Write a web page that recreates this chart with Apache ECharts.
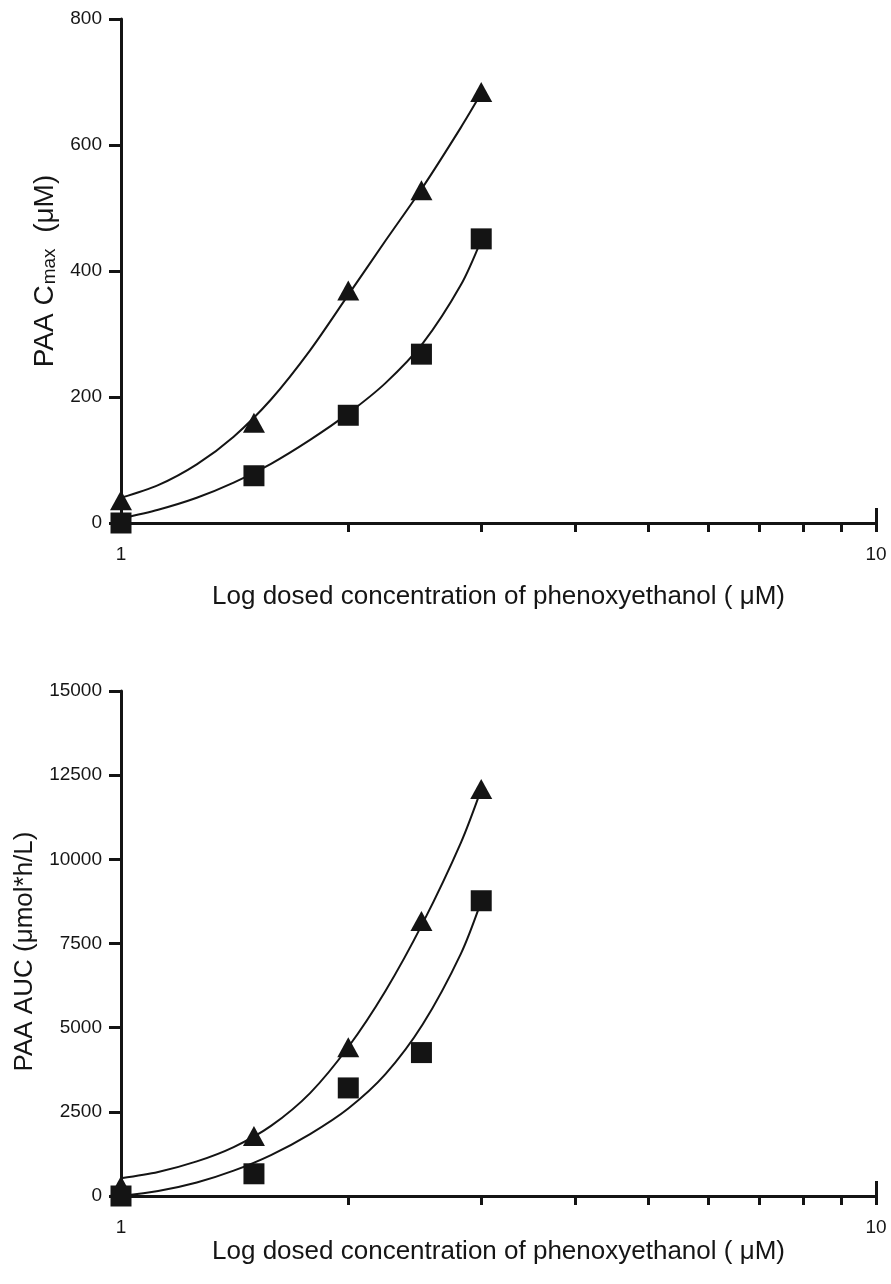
<!DOCTYPE html>
<html>
<head>
<meta charset="utf-8">
<script src="https://cdn.jsdelivr.net/npm/echarts@6/dist/echarts.min.js"></script>
<style>
  html, body { margin: 0; padding: 0; background: #ffffff; }
  #chart { width: 891px; height: 1284px; }
</style>
</head>
<body>
<div id="chart"></div>
<script>
// ---- data ----
const doses = [1, 1.5, 2, 2.5, 3];
const cmaxTriangle = [36, 159, 369, 528, 684];
const cmaxSquare = [0, 75, 171, 268, 451];
const aucTriangle = [300, 1780, 4420, 8170, 12090];
const aucSquare = [0, 660, 3210, 4260, 8770];

// fitted curves
const fitDoses = [1, 1.12, 1.26, 1.41, 1.58, 1.78, 2, 2.24, 2.51, 2.82, 3];
const cmaxTriangleFit = [40, 60, 93, 137, 196, 274, 362, 448, 533, 628, 682];
const cmaxSquareFit = [7, 21, 40, 64, 94, 132, 174, 222, 285, 378, 449];
const aucTriangleFit = [530, 715, 1027, 1453, 2082, 3057, 4425, 6090, 8104, 10498, 12078];
const aucSquareFit = [0, 148, 402, 754, 1217, 1841, 2600, 3620, 5100, 7200, 8750];

// axis ticks
const xTickValues = [1, 2, 3, 4, 5, 6, 7, 8, 9, 10];
const xMajorValues = [1, 10];
const xLabelValues = [1, 10];
const cmaxTicks = { min: 0, max: 800, interval: 200 };
const aucTicks = { min: 0, max: 15000, interval: 2500 };

const xTitle = 'Log dosed concentration of phenoxyethanol ( μM)';

// ---- build ----
const FONT = "'Liberation Sans', Arial, sans-serif";
const INK = '#141414';
const TXT = '#151515';

function pairs(xs, ys) { return xs.map((x, i) => [x, ys[i]]); }

function xAxisMain(gi, gap) {
  return {
    type: 'log', logBase: 10, min: 1, max: 10, gridIndex: gi,
    axisLine: { show: true, onZero: false, lineStyle: { color: INK, width: 3 } },
    axisTick: { show: true, customValues: xTickValues, length: 9, inside: false,
                lineStyle: { color: INK, width: 3 } },
    axisLabel: { show: true, customValues: xLabelValues, margin: 22, color: TXT,
                 fontFamily: FONT, fontSize: 19 },
    splitLine: { show: false }, minorTick: { show: false },
    name: xTitle, nameLocation: 'middle', nameGap: gap,
    nameTextStyle: { fontFamily: FONT, fontSize: 26, color: TXT }
  };
}
function xAxisMajor(gi) {
  return {
    type: 'log', logBase: 10, min: 1, max: 10, gridIndex: gi,
    axisLine: { show: false },
    axisTick: { show: true, customValues: xMajorValues, length: 15,
                lineStyle: { color: INK, width: 3 } },
    axisLabel: { show: false }, splitLine: { show: false }
  };
}
function yAxis(gi, t, name, gap, textStyle) {
  return {
    type: 'value', gridIndex: gi, min: t.min, max: t.max, interval: t.interval,
    axisLine: { show: true, onZero: false, lineStyle: { color: INK, width: 3 } },
    axisTick: { show: true, length: 12, lineStyle: { color: INK, width: 3 } },
    axisLabel: { margin: 19, color: TXT, fontFamily: FONT, fontSize: 19,
                 formatter: function (v) { return String(v); } },
    splitLine: { show: false },
    name: name, nameLocation: 'middle', nameGap: gap,
    nameTextStyle: textStyle
  };
}

function curve(xi, yi, xs, ys) {
  return { type: 'line', xAxisIndex: xi, yAxisIndex: yi, data: pairs(xs, ys),
           smooth: 0.3, showSymbol: false, symbol: 'none', silent: true,
           lineStyle: { color: INK, width: 2 }, z: 3 };
}
function points(xi, yi, xs, ys, symbol, size) {
  return { type: 'scatter', xAxisIndex: xi, yAxisIndex: yi, data: pairs(xs, ys),
           symbol: symbol, symbolSize: size,
           itemStyle: { color: INK, opacity: 1 }, z: 5 };
}

const topTitleStyle = {
  fontFamily: FONT, fontSize: 28, color: TXT,
  rich: {
    a: { fontFamily: FONT, fontSize: 28, color: TXT },
    b: { fontFamily: FONT, fontSize: 19, color: TXT, padding: [10, 0, 0, 1] }
  }
};
const bottomTitleStyle = {
  fontFamily: FONT, fontSize: 26, color: TXT, padding: [0, 16, 0, 0]
};

const option = {
  backgroundColor: '#ffffff',
  animation: false,
  grid: [
    { left: 121, top: 19, width: 755, height: 504, containLabel: false },
    { left: 121, top: 691, width: 755, height: 505, containLabel: false }
  ],
  xAxis: [xAxisMain(0, 61), xAxisMajor(0), xAxisMain(1, 43), xAxisMajor(1)],
  yAxis: [
    yAxis(0, cmaxTicks, '{a|PAA C}{b|max}{a|  (μM)}', 61, topTitleStyle),
    yAxis(1, aucTicks, 'PAA AUC (μmol*h/L)', 77, bottomTitleStyle)
  ],
  series: [
    curve(0, 0, fitDoses, cmaxTriangleFit),
    curve(0, 0, fitDoses, cmaxSquareFit),
    points(0, 0, doses, cmaxTriangle, 'triangle', [22, 20]),
    points(0, 0, doses, cmaxSquare, 'rect', 21),
    curve(2, 1, fitDoses, aucTriangleFit),
    curve(2, 1, fitDoses, aucSquareFit),
    points(2, 1, doses, aucTriangle, 'triangle', [22, 20]),
    points(2, 1, doses, aucSquare, 'rect', 21)
  ]
};

const chart = echarts.init(document.getElementById('chart'), null, { renderer: 'canvas' });
chart.setOption(option);
</script>
</body>
</html>
